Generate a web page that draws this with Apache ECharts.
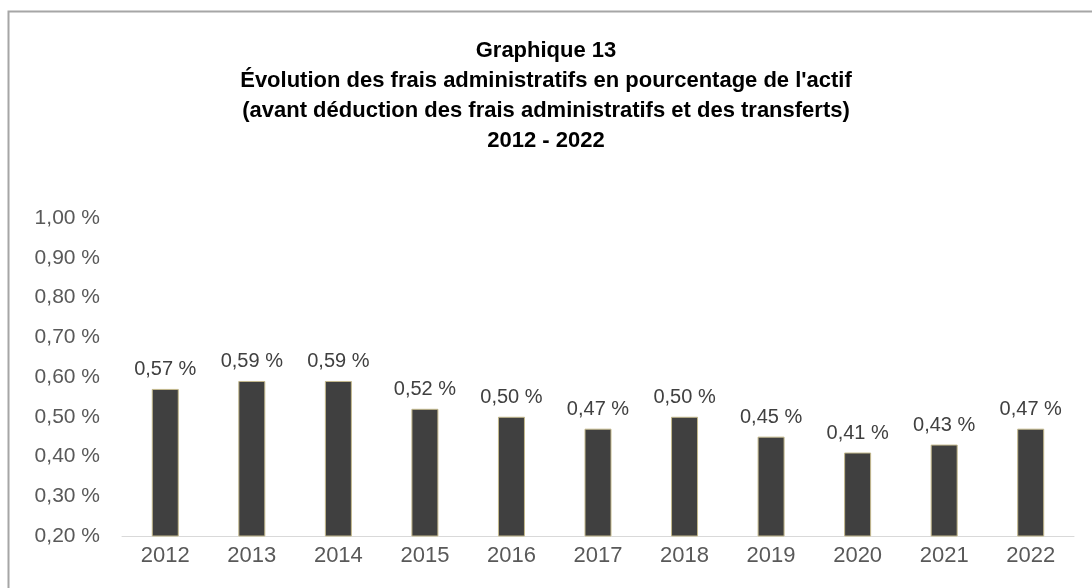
<!DOCTYPE html>
<html>
<head>
<meta charset="utf-8">
<script src="https://cdn.jsdelivr.net/npm/echarts@6/dist/echarts.min.js"></script>
<style>
  html, body { margin: 0; padding: 0; background: #fff; }
  #chart { width: 1092px; height: 588px; }
</style>
</head>
<body>
<div id="chart"></div>
<script>
var years = ['2012', '2013', '2014', '2015', '2016', '2017', '2018', '2019', '2020', '2021', '2022'];
var fraisPct = [0.57, 0.59, 0.59, 0.52, 0.50, 0.47, 0.50, 0.45, 0.41, 0.43, 0.47];
var titleLines = [
  'Graphique 13',
  'Évolution des frais administratifs en pourcentage de l\'actif',
  '(avant déduction des frais administratifs et des transferts)',
  '2012 - 2022'
];

function pct(v) {
  return v.toFixed(2).replace('.', ',') + ' %';
}

var chart = echarts.init(document.getElementById('chart'));
var font = '"Liberation Sans", Arial, sans-serif';

var option = {
  backgroundColor: '#ffffff',
  animation: false,
  textStyle: { fontFamily: font },
  title: {
    text: titleLines.join('\n'),
    left: 'center',
    top: 31,
    textStyle: {
      fontFamily: font,
      fontSize: 22,
      fontWeight: 'bold',
      color: '#000000',
      lineHeight: 30
    }
  },
  // outer frame, only top and left edges fall inside the picture
  graphic: [
    {
      type: 'rect',
      shape: { x: 8.5, y: 11.5, width: 1200, height: 700 },
      style: { fill: 'none', stroke: '#a6a6a6', lineWidth: 2 },
      silent: true
    }
  ],
  grid: {
    left: 122,
    right: 18,
    top: 218,
    bottom: 52
  },
  xAxis: {
    type: 'category',
    data: years,
    axisLine: { lineStyle: { color: '#d9d9d9', width: 1 } },
    axisTick: { show: false },
    axisLabel: {
      fontSize: 22,
      color: '#595959',
      margin: 9
    }
  },
  yAxis: {
    type: 'value',
    min: 0.2,
    max: 1.0,
    interval: 0.1,
    axisLine: { show: false },
    axisTick: { show: false },
    splitLine: { show: false },
    axisLabel: {
      fontSize: 21,
      color: '#595959',
      margin: 22,
      formatter: function (v) { return pct(v); }
    }
  },
  series: [
    {
      type: 'bar',
      data: fraisPct,
      barWidth: 27,
      itemStyle: {
        color: '#404040',
        borderColor: '#c4b98c',
        borderWidth: 1
      },
      label: {
        show: true,
        position: 'top',
        distance: 9,
        fontSize: 20,
        color: '#404040',
        formatter: function (p) { return pct(p.value); }
      }
    }
  ]
};

chart.setOption(option);
</script>
</body>
</html>
